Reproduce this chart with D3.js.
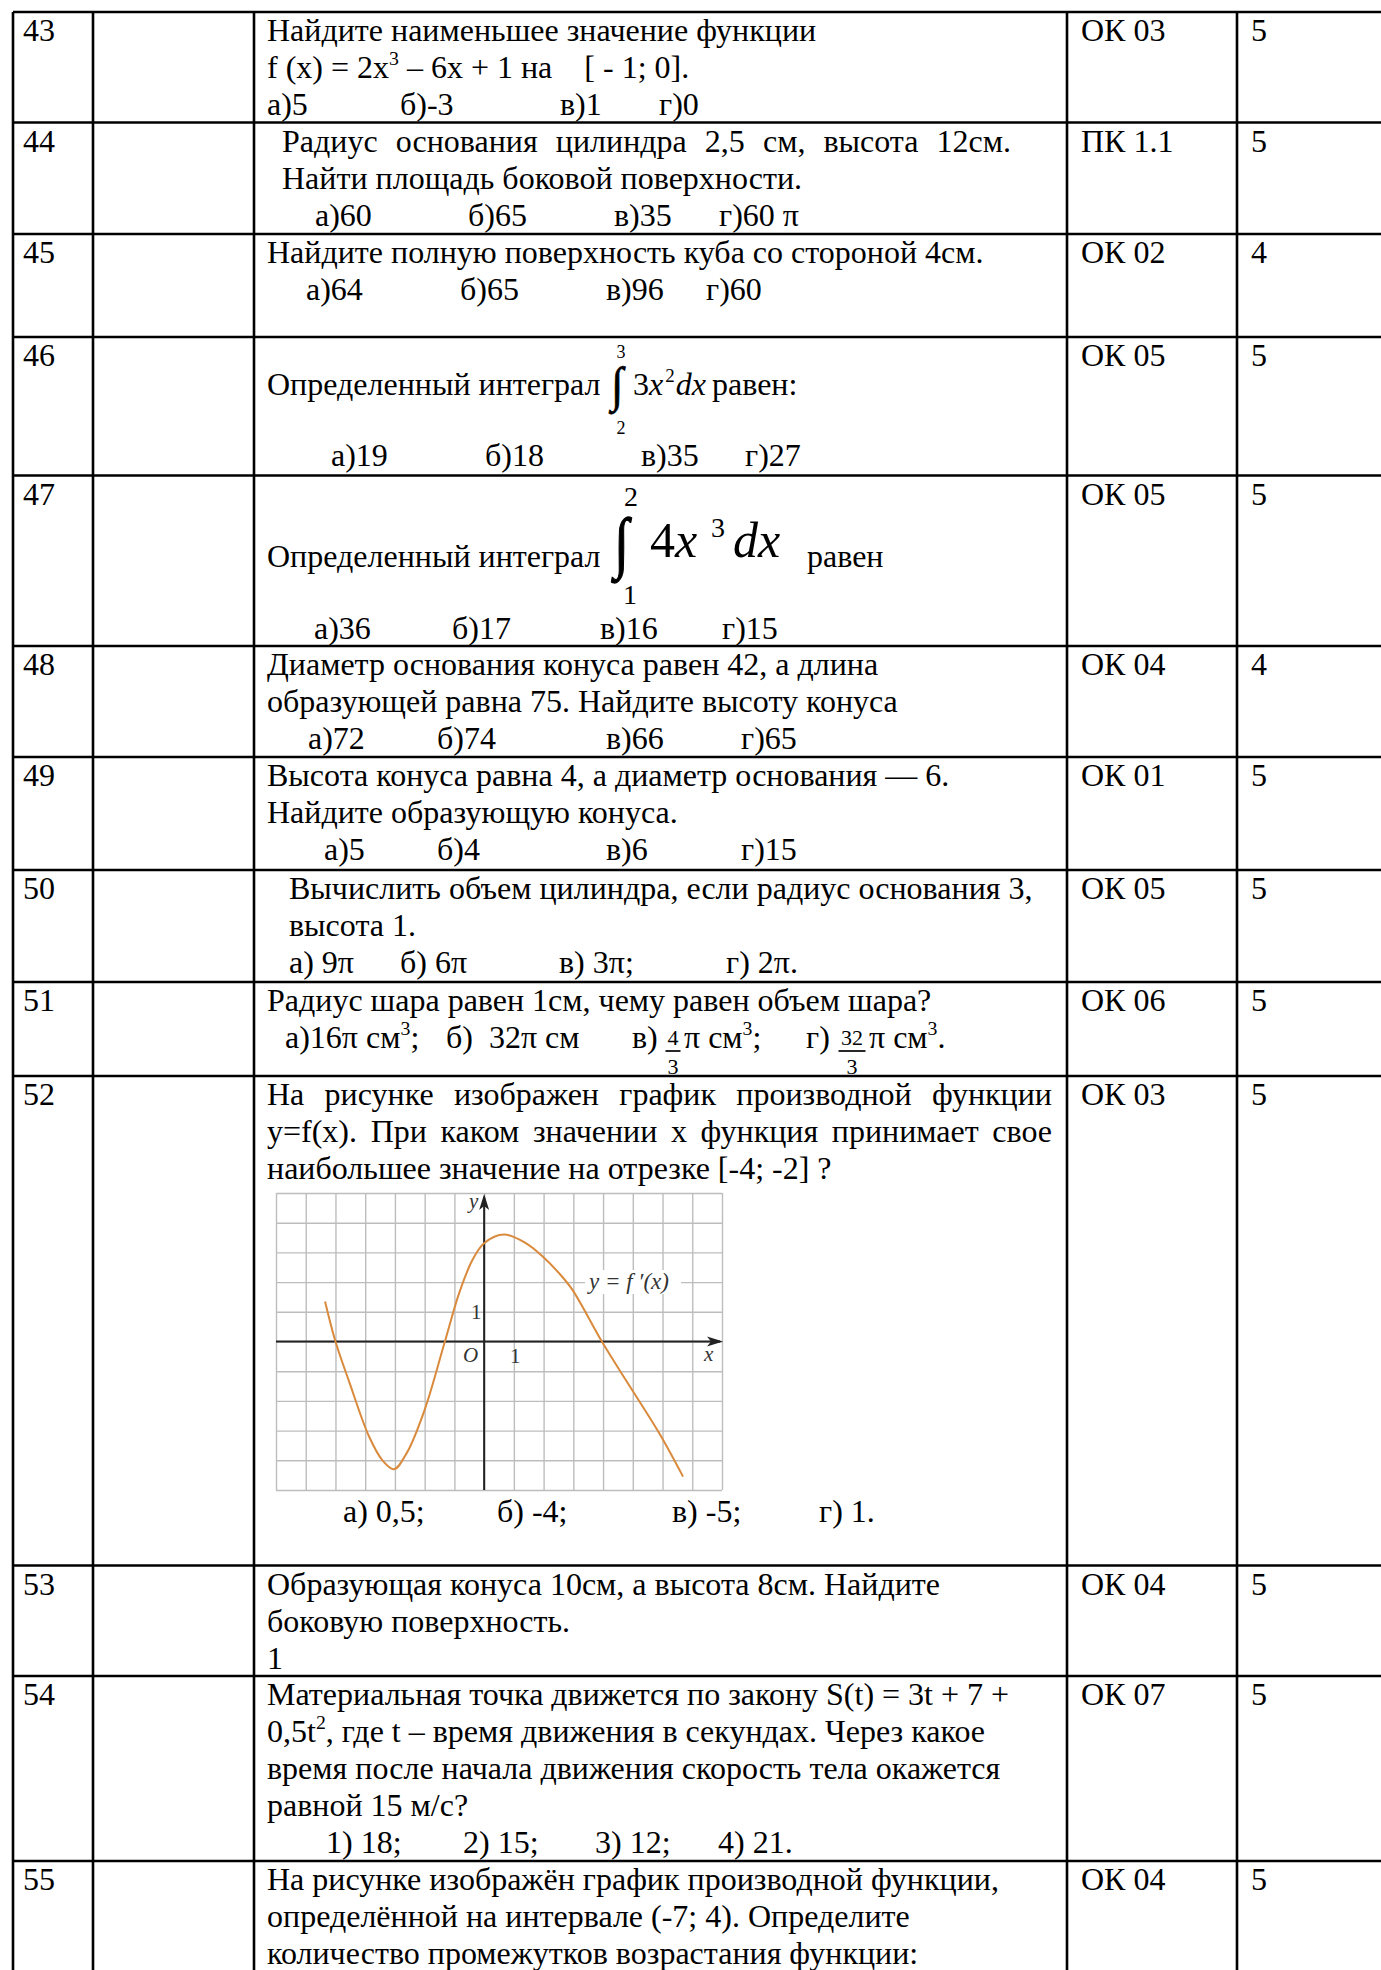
<!DOCTYPE html>
<html>
<head>
<meta charset="utf-8">
<script src="https://cdn.jsdelivr.net/npm/d3@7"></script>
<style>
body{margin:0;background:#fff;overflow:hidden}
svg text{font-family:"Liberation Serif","Times New Roman",serif;white-space:pre;fill:#000}
</style>
</head>
<body>
<svg id="page" width="1381" height="1970"></svg>
<script>

// row numbers, competence codes and points
var rowNums = ['43','44','45','46','47','48','49','50','51','52','53','54','55'];
var codes = ['ОК 03','ПК 1.1','ОК 02','ОК 05','ОК 05','ОК 04','ОК 01','ОК 05','ОК 06','ОК 03','ОК 04','ОК 07','ОК 04'];
var points = ['5','5','4','5','5','4','5','5','5','5','5','5','5'];

// question text, line by line ("^{..}" = superscript)
var questions = [
	['Найдите наименьшее значение функции', 'f (x) = 2x^{3} – 6x + 1 на    [ - 1; 0].'],
	['Радиус основания цилиндра 2,5 см, высота 12см.', 'Найти площадь боковой поверхности.'],
	['Найдите полную поверхность куба со стороной 4см.'],
	[],
	[],
	['Диаметр основания конуса равен 42, а длина', 'образующей равна 75. Найдите высоту конуса'],
	['Высота конуса равна 4, а диаметр основания — 6.', 'Найдите образующую конуса.'],
	['Вычислить объем цилиндра, если радиус основания 3,', 'высота 1.'],
	['Радиус шара равен 1см, чему равен объем шара?'],
	['На рисунке изображен график производной функции', 'y=f(x). При каком значении x функция принимает свое', 'наибольшее значение на отрезке [-4; -2] ?'],
	['Образующая конуса 10см, а высота 8см. Найдите', 'боковую поверхность.', '1'],
	['Материальная точка движется по закону S(t) = 3t + 7 +', '0,5t^{2}, где t – время движения в секундах. Через какое', 'время после начала движения скорость тела окажется', 'равной 15 м/с?'],
	['На рисунке изображён график производной функции,', 'определённой на интервале (-7; 4). Определите', 'количество промежутков возрастания функции:']
];

// answer options
var answers = [
	['а)5','б)-3','в)1','г)0'],
	['а)60','б)65','в)35','г)60 π'],
	['а)64','б)65','в)96','г)60'],
	['а)19','б)18','в)35','г)27'],
	['а)36','б)17','в)16','г)15'],
	['а)72','б)74','в)66','г)65'],
	['а)5','б)4','в)6','г)15'],
	['а) 9π','б) 6π','в) 3π;','г) 2π.'],
	[],
	['а) 0,5;','б) -4;','в) -5;','г) 1.'],
	[],
	['1) 18;','2) 15;','3) 12;','4) 21.'],
	[]
];

// graph of y = f'(x)
var curveX = [-5.35, -5.0, -4.54, -3.87, -3.42, -3.03, -2.6, -2.0, -1.32, -0.84, -0.39, 0, 0.67, 1.4, 1.96, 2.52, 2.97, 3.96, 4.76, 5.89, 6.69];
var curveY = [1.35, 0, -1.35, -3.2, -4.0, -4.3, -3.75, -2.3, 0, 1.63, 2.75, 3.31, 3.6, 3.31, 2.87, 2.3, 1.74, 0, -1.29, -3.09, -4.55];
var gridX = d3.range(-7, 9);
var gridY = d3.range(-5, 6);

// ---- layout ----
var colX = [13, 93, 254, 1067, 1237, 1395];
var rowY = [12, 122.5, 234, 337, 475.5, 646, 757, 870, 982, 1076, 1565.5, 1676, 1861, 1995];
var textX = [267, 282, 267, 267, 267, 267, 267, 289, 267, 267, 267, 267, 267];
var justifyTo = [0, 1011, 0, 0, 0, 0, 0, 0, 0, 1052, 0, 0, 0];
var ansX = [
	[267, 400, 560, 659],
	[315, 468, 614, 719],
	[306, 460, 606, 706],
	[331, 485, 641, 745],
	[314, 452, 600, 722],
	[308, 437, 606, 741],
	[324, 437, 606, 741],
	[289, 400, 559, 726],
	[],
	[343, 497, 672, 819],
	[],
	[326, 463, 595, 718],
	[]
];
var ansLine = [2, 2, 1, 0, 0, 2, 2, 2, 0, 0, 0, 4, 0];
var ansBase = [0, 0, 0, 466, 639, 0, 0, 0, 0, 1522, 0, 0, 0];
var FS = 32, LH = 37, FIRST = 29;

var svg = d3.select('#page');

function rich(g, str, x, y, size){
	var t = g.append('text').attr('x', x).attr('y', y).style('font-size', size + 'px');
	var parts = str.split(/\^\{([^}]*)\}/);
	var shift = 0;
	parts.forEach(function(p, i){
		if (p === '') return;
		var sp = t.append('tspan');
		if (i % 2) {
			sp.attr('dy', -size * 0.4).style('font-size', (size * 0.62) + 'px');
			shift = size * 0.4;
		} else {
			if (shift) sp.attr('dy', shift);
			shift = 0;
		}
		sp.text(p);
	});
	return t;
}

var content = svg.append('g');

rowNums.forEach(function(n, i){
	var top = rowY[i];
	var base = top + FIRST;
	content.append('text').attr('x', 23).attr('y', base).style('font-size', FS + 'px').text(n);
	content.append('text').attr('x', 1081).attr('y', base).style('font-size', FS + 'px').text(codes[i]);
	content.append('text').attr('x', 1251).attr('y', base).style('font-size', FS + 'px').text(points[i]);

	questions[i].forEach(function(line, k){
		var t = rich(content, line, textX[i], base + k * LH, FS);
		// justified lines (all but the last one of a paragraph)
		if (justifyTo[i] && k < questions[i].length - 1) {
			var w = t.node().getComputedTextLength();
			var gaps = line.split(' ').length - 1;
			t.style('word-spacing', ((justifyTo[i] - textX[i] - w) / gaps) + 'px');
		}
	});

	var ab = ansBase[i] || (base + ansLine[i] * LH);
	answers[i].forEach(function(a, k){
		content.append('text').attr('x', ansX[i][k]).attr('y', ab).style('font-size', FS + 'px').text(a);
	});
});

// ---- row 46: small integral ----
(function(){
	var g = content.append('g');
	var b = 395;
	g.append('text').attr('x', 267).attr('y', b).style('font-size', FS + 'px').text('Определенный интеграл');
	g.append('text').attr('x', 611).attr('y', 0).style('font-size', '44px')
		.attr('stroke', '#000').attr('stroke-width', 0.7)
		.attr('transform', 'translate(0,401) scale(1,1.11)').text('∫');
	g.append('text').attr('x', 621).attr('y', 358).attr('text-anchor', 'middle').style('font-size', '18px').text('3');
	g.append('text').attr('x', 621).attr('y', 434).attr('text-anchor', 'middle').style('font-size', '18px').text('2');
	var t = g.append('text').attr('x', 633).attr('y', b).style('font-size', FS + 'px');
	t.append('tspan').text('3');
	t.append('tspan').style('font-style', 'italic').text('x');
	t.append('tspan').attr('dx', 2).attr('dy', -13).style('font-size', '19px').text('2');
	t.append('tspan').attr('dx', 1).attr('dy', 13).style('font-style', 'italic').text('dx');
	g.append('text').attr('x', 712).attr('y', b).style('font-size', FS + 'px').text('равен:');
})();

// ---- row 47: large integral ----
(function(){
	var g = content.append('g');
	var b = 567;
	g.append('text').attr('x', 267).attr('y', b).style('font-size', FS + 'px').text('Определенный интеграл');
	g.append('text').attr('x', 614).attr('y', 0).style('font-size', '54px')
		.attr('stroke', '#000').attr('stroke-width', 1)
		.attr('transform', 'translate(0,565) scale(1,1.25)').text('∫');
	g.append('text').attr('x', 631).attr('y', 506).attr('text-anchor', 'middle').style('font-size', '28px').text('2');
	g.append('text').attr('x', 630).attr('y', 604).attr('text-anchor', 'middle').style('font-size', '28px').text('1');
	g.append('text').attr('x', 650).attr('y', 557).style('font-size', '50px').text('4');
	g.append('text').attr('x', 675).attr('y', 557).style('font-size', '50px').style('font-style', 'italic').text('x');
	g.append('text').attr('x', 711).attr('y', 537).style('font-size', '28px').text('3');
	g.append('text').attr('x', 733).attr('y', 557).style('font-size', '50px').style('font-style', 'italic').text('dx');
	g.append('text').attr('x', 807).attr('y', b).style('font-size', FS + 'px').text('равен');
})();

// ---- row 51 second line with fractions ----
(function(){
	var g = content.append('g');
	var b = 1048;
	rich(g, 'а)16π см^{3};', 285, b, FS);
	g.append('text').attr('x', 446).attr('y', b).style('font-size', FS + 'px').text('б)  32π см');
	g.append('text').attr('x', 632).attr('y', b).style('font-size', FS + 'px').text('в)');
	rich(g, 'π см^{3};', 684, b, FS);
	g.append('text').attr('x', 806).attr('y', b).style('font-size', FS + 'px').text('г)');
	rich(g, 'π см^{3}.', 869, b, FS);
	[[673, '4', 13], [852, '32', 25]].forEach(function(f){
		g.append('text').attr('x', f[0]).attr('y', 1045).attr('text-anchor', 'middle').style('font-size', '22px').text(f[1]);
		g.append('line').attr('x1', f[0] - f[2] / 2 - 1).attr('x2', f[0] + f[2] / 2 + 1)
			.attr('y1', 1051).attr('y2', 1051).attr('stroke', '#000').attr('stroke-width', 1.7);
		g.append('text').attr('x', f[0]).attr('y', 1074).attr('text-anchor', 'middle').style('font-size', '22px').text('3');
	});
})();

// ---- row 52: graph of the derivative ----
var gx = d3.scaleLinear().domain([-7, 8]).range([276, 722]);
var gy = d3.scaleLinear().domain([-5, 5]).range([1490, 1193]);

var chart = svg.append('g');
chart.append('g')
	.attr('transform', 'translate(0,' + gy(-5) + ')')
	.call(d3.axisBottom(gx).tickValues(gridX).tickSize(-(gy(-5) - gy(5))).tickFormat(''))
	.call(function(a){ a.select('.domain').remove(); });
chart.append('g')
	.attr('transform', 'translate(' + gx(-7) + ',0)')
	.call(d3.axisLeft(gy).tickValues(gridY).tickSize(-(gx(8) - gx(-7))).tickFormat(''))
	.call(function(a){ a.select('.domain').remove(); });
chart.selectAll('.tick line').attr('stroke', '#bdbdbd').attr('stroke-width', 1.4);

// axes with arrows
chart.append('line').attr('x1', gx(-7)).attr('x2', gx(8) - 2).attr('y1', gy(0)).attr('y2', gy(0))
	.attr('stroke', '#222').attr('stroke-width', 2);
chart.append('line').attr('x1', gx(0)).attr('x2', gx(0)).attr('y1', gy(-5)).attr('y2', gy(5) + 4)
	.attr('stroke', '#222').attr('stroke-width', 2);
var ax = gx(8) + 1, ay = gy(0);
chart.append('path').attr('d', 'M' + ax + ',' + ay + 'L' + (ax - 16) + ',' + (ay - 5) + 'L' + (ax - 12) + ',' + ay + 'L' + (ax - 16) + ',' + (ay + 5) + 'Z').attr('fill', '#222');
var bx = gx(0), by = gy(5) + 1;
chart.append('path').attr('d', 'M' + bx + ',' + by + 'L' + (bx - 5) + ',' + (by + 16) + 'L' + bx + ',' + (by + 12) + 'L' + (bx + 5) + ',' + (by + 16) + 'Z').attr('fill', '#222');

// label box
chart.append('rect').attr('x', 585).attr('y', 1270).attr('width', 96).attr('height', 24).attr('fill', '#fff');
chart.append('text').attr('x', 589).attr('y', 1289).style('font-size', '23px').style('font-style', 'italic').style('fill', '#333').text('y = f ′(x)');

var lbl = [['y', 469, 1208], ['x', 704, 1361], ['O', 463, 1362], ['1', 510, 1363], ['1', 471, 1319]];
lbl.forEach(function(l){
	chart.append('text').attr('x', l[1]).attr('y', l[2]).style('font-size', '21px')
		.style('font-style', l[0] === '1' ? 'normal' : 'italic').style('fill', '#333').text(l[0]);
});

var pts = curveX.map(function(x, i){ return [x, curveY[i]]; });
chart.append('path')
	.datum(pts)
	.attr('d', d3.line().x(function(d){ return gx(d[0]); }).y(function(d){ return gy(d[1]); }).curve(d3.curveCatmullRom.alpha(0.5)))
	.attr('fill', 'none').attr('stroke', '#d98a3c').attr('stroke-width', 2);

// ---- table lines ----
var grid = svg.append('g').attr('stroke', '#000').attr('stroke-width', 2.6);
colX.forEach(function(x){
	grid.append('line').attr('x1', x).attr('x2', x).attr('y1', rowY[0]).attr('y2', rowY[rowY.length - 1]);
});
rowY.forEach(function(y){
	grid.append('line').attr('x1', colX[0]).attr('x2', colX[colX.length - 1]).attr('y1', y).attr('y2', y);
});
</script>
</body>
</html>
